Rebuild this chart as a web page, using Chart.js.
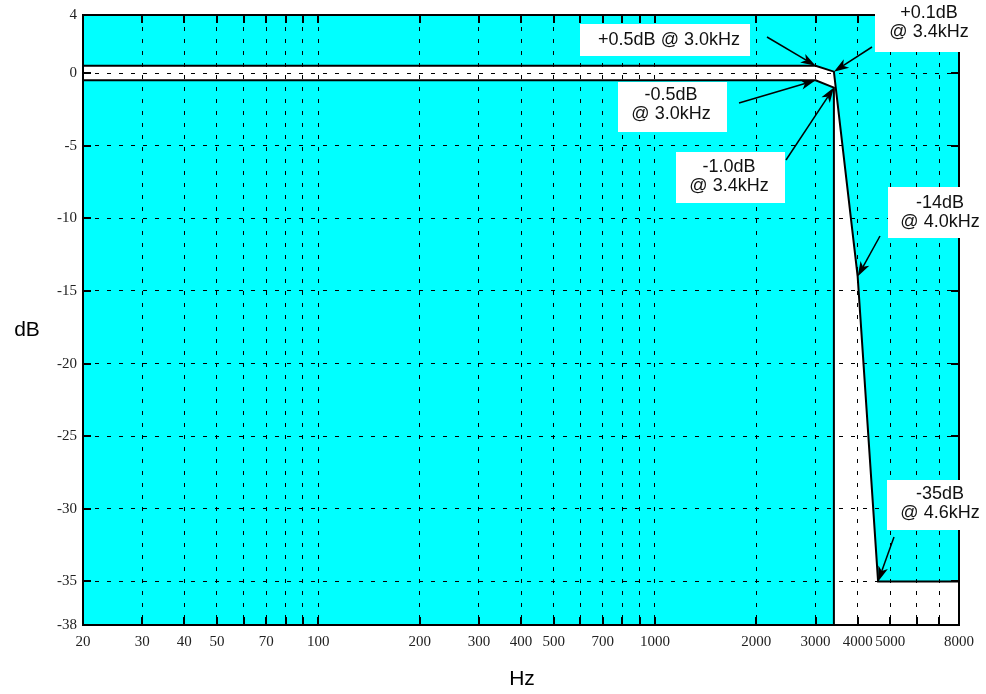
<!DOCTYPE html>
<html>
<head>
<meta charset="utf-8">
<script src="https://cdn.jsdelivr.net/npm/chart.js@4"></script>
<style>
  html, body { margin: 0; padding: 0; background: #fff; }
  #c { display: block; }
</style>
</head>
<body>
<canvas id="c" width="986" height="694"></canvas>
<script>
// ---- data ----
const upperHz = [20, 3000, 3400, 4000, 4600, 8000];
const upperDb = [0.5, 0.5, 0.1, -14, -35, -35];
const lowerHz = [20, 3000, 3400, 3400];
const lowerDb = [-0.5, -0.5, -1.0, -38];

const xTickValues = [20,30,40,50,60,70,80,90,100,200,300,400,500,600,700,800,900,1000,2000,3000,4000,5000,6000,7000,8000];
const xTickLabels = [20,30,40,50,70,100,200,300,400,500,700,1000,2000,3000,4000,5000,8000];
const yTickValues = [-38,-35,-30,-25,-20,-15,-10,-5,0,4];

const noteText = [["+0.5dB @ 3.0kHz"], ["+0.1dB","@ 3.4kHz"], ["-0.5dB","@ 3.0kHz"], ["-1.0dB","@ 3.4kHz"], ["-14dB","@ 4.0kHz"], ["-35dB","@ 4.6kHz"]];
const noteHz = [3000, 3400, 3000, 3400, 4000, 4600];
const noteDb = [0.5, 0.1, -0.5, -1.0, -14, -35];

// ---- annotation layout (pixels) ----
const noteBox  = [[580,24,750,56],[875,0,986,52],[618,82,727,132],[676,152,785,203],[888,187,986,238],[887,480,986,530]];
const noteTextPos = [[669,40],[929,13],[671,95],[729,167],[940,203],[940,494]];
const noteTail = [[767,37],[872,47],[739,103],[786,160],[880,236],[894,537]];

const CYAN = '#00ffff';
const tickFont = { family: "'Liberation Serif', 'Times New Roman', serif", size: 15 };

const framePlugin = {
  id: 'frame',
  afterDraw(chart) {
    const ctx = chart.ctx, a = chart.chartArea;
    const xs = chart.scales.x, ys = chart.scales.y;
    ctx.save();
    ctx.strokeStyle = '#000';
    ctx.lineWidth = 2;
    ctx.strokeRect(a.left, a.top, a.right - a.left, a.bottom - a.top);
    const L = 8;
    ctx.beginPath();
    xTickValues.forEach(v => {
      const px = Math.round(xs.getPixelForValue(v));
      ctx.moveTo(px, a.bottom); ctx.lineTo(px, a.bottom - L);
      ctx.moveTo(px, a.top); ctx.lineTo(px, a.top + L);
    });
    yTickValues.forEach(v => {
      const py = Math.round(ys.getPixelForValue(v));
      ctx.moveTo(a.left, py); ctx.lineTo(a.left + L, py);
      ctx.moveTo(a.right, py); ctx.lineTo(a.right - L, py);
    });
    ctx.stroke();

    // axis titles
    ctx.fillStyle = '#000';
    ctx.font = "21px 'Liberation Sans', Arial, sans-serif";
    ctx.textAlign = 'center';
    ctx.textBaseline = 'middle';
    ctx.fillText('dB', 27, (a.top + a.bottom) / 2 + 10);
    ctx.fillText('Hz', 522, 679);

    // annotations
    noteText.forEach((lines, i) => {
      const b = noteBox[i];
      ctx.fillStyle = '#fff';
      ctx.fillRect(b[0], b[1], b[2] - b[0], b[3] - b[1]);
      ctx.fillStyle = '#111';
      ctx.font = "18px 'Liberation Sans', Arial, sans-serif";
      ctx.textAlign = 'center';
      ctx.textBaseline = 'middle';
      lines.forEach((t, k) => ctx.fillText(t, noteTextPos[i][0], noteTextPos[i][1] + k * 19));
      // arrow
      const tx = xs.getPixelForValue(noteHz[i]);
      const ty = ys.getPixelForValue(noteDb[i]);
      const [sx, sy] = noteTail[i];
      const ang = Math.atan2(ty - sy, tx - sx);
      const hl = 15, hw = 5, notch = 11;
      const cos = Math.cos(ang), sin = Math.sin(ang);
      ctx.strokeStyle = '#000';
      ctx.lineWidth = 1.5;
      ctx.beginPath();
      ctx.moveTo(sx, sy);
      ctx.lineTo(tx - cos * notch, ty - sin * notch);
      ctx.stroke();
      ctx.fillStyle = '#000';
      ctx.beginPath();
      ctx.moveTo(tx, ty);
      ctx.lineTo(tx - cos * hl - sin * hw, ty - sin * hl + cos * hw);
      ctx.lineTo(tx - cos * notch, ty - sin * notch);
      ctx.lineTo(tx - cos * hl + sin * hw, ty - sin * hl - cos * hw);
      ctx.closePath();
      ctx.fill();
    });
    ctx.restore();
  }
};

new Chart(document.getElementById('c'), {
  type: 'line',
  data: {
    datasets: [
      {
        label: 'upper',
        data: upperHz.map((x, i) => ({ x, y: upperDb[i] })),
        borderColor: '#000',
        borderWidth: 2,
        backgroundColor: CYAN,
        fill: 'end',
        pointRadius: 0,
        tension: 0
      },
      {
        label: 'lower',
        data: lowerHz.map((x, i) => ({ x, y: lowerDb[i] })),
        borderColor: '#000',
        borderWidth: 2,
        backgroundColor: CYAN,
        fill: 'start',
        pointRadius: 0,
        tension: 0
      }
    ]
  },
  options: {
    responsive: false,
    devicePixelRatio: 1,
    animation: false,
    layout: { padding: { top: 11, right: 27, bottom: 0, left: 0 } },
    plugins: { legend: { display: false }, tooltip: { enabled: false } },
    scales: {
      x: {
        type: 'logarithmic',
        min: 20, max: 8000,
        afterFit: s => { s.height = 69; },
        afterBuildTicks: s => { s.ticks = xTickValues.map(v => ({ value: v })); },
        ticks: {
          autoSkip: false, maxRotation: 0, padding: 8,
          color: '#222', font: tickFont,
          callback: v => xTickLabels.includes(v) ? String(v) : ''
        },
        grid: { color: '#000', lineWidth: 1, drawTicks: false, z: 1 },
        border: { display: false, dash: [4, 8] }
      },
      y: {
        type: 'linear',
        min: -38, max: 4,
        afterFit: s => { s.width = 83; },
        afterBuildTicks: s => { s.ticks = yTickValues.map(v => ({ value: v })); },
        ticks: { autoSkip: false, padding: 6, color: '#222', font: tickFont, callback: v => String(v) },
        grid: { color: '#000', lineWidth: 1, drawTicks: false, z: 1 },
        border: { display: false, dash: [4, 8] }
      }
    }
  },
  plugins: [framePlugin]
});
</script>
</body>
</html>
